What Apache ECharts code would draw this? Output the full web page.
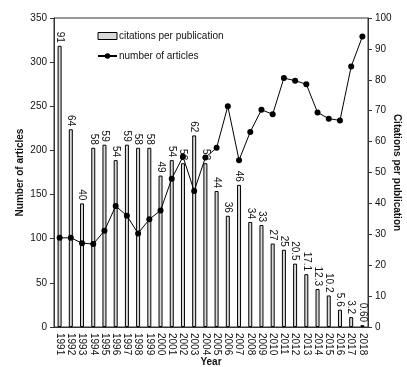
<!DOCTYPE html>
<html><head><meta charset="utf-8">
<script src="https://cdn.jsdelivr.net/npm/echarts@6/dist/echarts.min.js"></script>
<style>html,body{margin:0;padding:0;background:#fff}#c{width:407px;height:367px}</style>
</head><body><div id="c"></div>
<script>
var years = ['1991','1992','1993','1994','1995','1996','1997','1998','1999','2000','2001','2002','2003','2004','2005','2006','2007','2008','2009','2010','2011','2012','2013','2014','2015','2016','2017','2018'];
var citations = [91,64,40,58,59,54,59,58,58,49,54,53,62,53,44,36,46,34,33,27,25,20.5,17.1,12.3,10.2,5.6,3.2,0.6];
var citationLabels = ['91','64','40','58','59','54','59','58','58','49','54','53','62','53','44','36','46','34','33','27','25','20.5','17.1','12.3','10.2','5.6','3.2','0.60'];
var articles = [101,101,95,94,109,137,126,106,122,132,168,193,154,192,203,250,189,221,246,241,282,279,275,243,236,234,295,329];
var leftTicks = [0,50,100,150,200,250,300,350];
var rightTicks = [0,10,20,30,40,50,60,70,80,90,100];

var FONT = 'Liberation Sans, Arial, sans-serif';
var chart = echarts.init(document.getElementById('c'), null, {renderer:'canvas'});
chart.setOption({
  animation: false,
  backgroundColor: '#fff',
  textStyle: {fontFamily: FONT, color: '#111'},
  grid: {left: 54, right: 39, top: 18, bottom: 40, show: true, borderColor: '#333', borderWidth: 1,
         containLabel: false, outerBoundsMode: 'none'},
  legend: {
    orient: 'vertical', left: 97, top: 31, padding: 0, itemGap: 10, itemWidth: 19, itemHeight: 7,
    textStyle: {fontFamily: FONT, fontSize: 10, color: '#111', padding: [0,0,0,-3]},
    data: [
      {name: 'citations per publication', icon: 'rect', itemStyle: {color: '#d9d9d9', borderColor: '#000', borderWidth: 1}},
      {name: 'number of articles'}
    ]
  },
  xAxis: {
    type: 'category', data: years, name: 'Year', nameLocation: 'middle', nameGap: 30, nameMoveOverlap: false,
    nameTextStyle: {fontFamily: FONT, fontSize: 10, fontWeight: 'bold', color: '#111'},
    axisLine: {lineStyle: {color: '#333'}}, axisTick: {show: false},
    axisLabel: {rotate: -90, fontSize: 10, color: '#111', fontFamily: FONT, interval: 0, margin: 6}
  },
  yAxis: [
    {type: 'value', min: leftTicks[0], max: leftTicks[leftTicks.length-1], interval: 50,
     name: 'Number of articles', nameLocation: 'middle', nameGap: 29, nameRotate: 90, nameMoveOverlap: false,
     nameTextStyle: {fontFamily: FONT, fontSize: 10, fontWeight: 'bold', color: '#111'},
     axisLine: {show: true, lineStyle: {color: '#333'}}, axisTick: {show: true, length: 4, lineStyle: {color: '#333'}},
     axisLabel: {fontSize: 10, color: '#111', fontFamily: FONT, margin: 7}, splitLine: {show: false}},
    {type: 'value', min: rightTicks[0], max: rightTicks[rightTicks.length-1], interval: 10, position: 'right',
     name: 'Citations per publication', nameLocation: 'middle', nameGap: 24, nameRotate: -90, nameMoveOverlap: false,
     nameTextStyle: {fontFamily: FONT, fontSize: 10, fontWeight: 'bold', color: '#111'},
     axisLine: {show: true, lineStyle: {color: '#333'}}, axisTick: {show: true, length: 4, lineStyle: {color: '#333'}},
     axisLabel: {fontSize: 10, color: '#111', fontFamily: FONT, margin: 7}, splitLine: {show: false}}
  ],
  series: [
    {name: 'citations per publication', type: 'bar', yAxisIndex: 1, data: citations, barWidth: 4,
     itemStyle: {color: '#d9d9d9', borderColor: '#000', borderWidth: 1},
     label: {show: true, position: 'top', rotate: -90, align: 'right', verticalAlign: 'middle', distance: 3,
             fontSize: 10, color: '#111', fontFamily: FONT,
             formatter: function(p){ return citationLabels[p.dataIndex]; }}},
    {name: 'number of articles', type: 'line', yAxisIndex: 0, data: articles,
     symbol: 'circle', symbolSize: 6, lineStyle: {color: '#000', width: 1}, itemStyle: {color: '#000'}, z: 5}
  ]
});
</script></body></html>
